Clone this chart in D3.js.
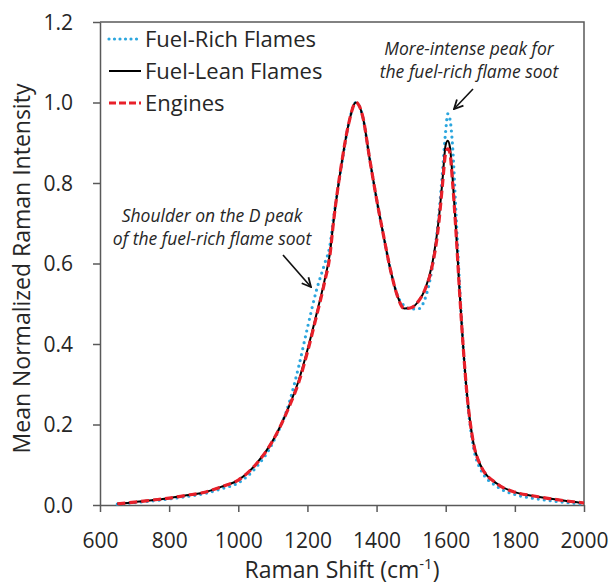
<!DOCTYPE html>
<html>
<head>
<meta charset="utf-8">
<script src="https://cdn.jsdelivr.net/npm/d3@7/dist/d3.min.js"></script>
<style>
  body { margin: 0; background: #fff; }
  svg { font-family: 'Open Sans', sans-serif; }
</style>
</head>
<body>
<div id="chart"></div>
<script>
// Raman spectra data
const shift = [650, 700, 750, 800, 850, 900, 950, 1000, 1050, 1100, 1150, 1175, 1200, 1225, 1250,
  1265, 1275, 1300, 1320, 1340, 1360, 1380, 1400, 1420, 1440, 1460, 1480, 1500, 1520, 1540, 1560,
  1580, 1590, 1600, 1606, 1612, 1620, 1630, 1640, 1650, 1660, 1680, 1700, 1750, 1800, 1850, 1900, 1950, 2000];

const fuelRich = [0.002, 0.006, 0.010, 0.015, 0.021, 0.028, 0.040, 0.055, 0.092, 0.155, 0.262, 0.345, 0.44, 0.53, 0.60,
  0.645, 0.71, 0.85, 0.95, 1.0, 0.965, 0.86, 0.76, 0.67, 0.585, 0.522, 0.495, 0.487, 0.487, 0.512, 0.585,
  0.72, 0.82, 0.93, 0.972, 0.96, 0.89, 0.72, 0.55, 0.40, 0.285, 0.145, 0.09, 0.045, 0.026, 0.017, 0.011, 0.006, 0.002];

const fuelLean = [0.003, 0.007, 0.012, 0.017, 0.024, 0.031, 0.045, 0.062, 0.100, 0.160, 0.252, 0.31, 0.385, 0.47, 0.56,
  0.625, 0.70, 0.855, 0.95, 1.0, 0.965, 0.86, 0.76, 0.67, 0.585, 0.52, 0.488, 0.49, 0.505, 0.535, 0.595,
  0.71, 0.80, 0.895, 0.905, 0.89, 0.81, 0.68, 0.53, 0.40, 0.29, 0.155, 0.10, 0.052, 0.032, 0.023, 0.016, 0.010, 0.005];

const engines = [0.003, 0.007, 0.012, 0.017, 0.024, 0.031, 0.045, 0.062, 0.100, 0.160, 0.250, 0.305, 0.38, 0.465, 0.555,
  0.62, 0.70, 0.855, 0.95, 1.0, 0.965, 0.86, 0.76, 0.67, 0.585, 0.52, 0.488, 0.49, 0.505, 0.535, 0.59,
  0.70, 0.79, 0.875, 0.885, 0.875, 0.80, 0.675, 0.53, 0.40, 0.29, 0.155, 0.10, 0.052, 0.032, 0.023, 0.016, 0.010, 0.005];

const xTicks = [600, 800, 1000, 1200, 1400, 1600, 1800, 2000];
const yTicks = [0, 0.2, 0.4, 0.6, 0.8, 1.0, 1.2];

const seriesNames = ['Fuel-Rich Flames', 'Fuel-Lean Flames', 'Engines'];
const seriesValues = [fuelRich, fuelLean, engines];

const width = 614, height = 587;
const margin = { top: 22, right: 30, bottom: 82, left: 100 };
const axisColor = '#595959';
const textColor = '#262626';

const styles = [
  { color: '#2ba6de', width: 3.2, dash: '0 6', cap: 'round' },
  { color: '#000000', width: 2, dash: null, cap: 'butt' },
  { color: '#e8202a', width: 3.2, dash: '8 4', cap: 'butt' }
];

const svg = d3.select('#chart').append('svg')
  .attr('width', width)
  .attr('height', height);

const x = d3.scaleLinear().domain([600, 2000]).range([margin.left, width - margin.right]);
const y = d3.scaleLinear().domain([0, 1.2]).range([height - margin.bottom, margin.top]);

// box (top + right)
svg.append('path')
  .attr('d', `M${margin.left},${margin.top}H${width - margin.right}V${height - margin.bottom}`)
  .attr('fill', 'none')
  .attr('stroke', axisColor)
  .attr('stroke-width', 1.5);

// x axis
const xAxis = svg.append('g')
  .attr('transform', `translate(0,${height - margin.bottom})`)
  .call(d3.axisBottom(x).tickValues(xTicks).tickSize(7).tickSizeOuter(0).tickPadding(21).tickFormat(d3.format('d')));

// y axis
const yAxis = svg.append('g')
  .attr('transform', `translate(${margin.left},0)`)
  .call(d3.axisLeft(y).tickValues(yTicks).tickSize(7).tickSizeOuter(0).tickPadding(20).tickFormat(d3.format('.1f')));

[xAxis, yAxis].forEach(a => {
  a.select('.domain').attr('stroke', axisColor).attr('stroke-width', 1.5);
  a.selectAll('.tick line').attr('stroke', axisColor).attr('stroke-width', 1.5);
  a.selectAll('.tick text')
    .attr('fill', textColor)
    .attr('font-size', '21px')
    .attr('font-family', "'Open Sans', sans-serif");
});
yAxis.selectAll('.tick text').attr('dy', '0.35em');

// lines
const line = d3.line()
  .x(d => x(d[0]))
  .y(d => y(d[1]))
  .curve(d3.curveMonotoneX);

seriesValues.forEach((vals, i) => {
  const pts = shift.map((s, j) => [s, vals[j]]);
  const st = styles[i];
  svg.append('path')
    .datum(pts)
    .attr('fill', 'none')
    .attr('stroke', st.color)
    .attr('stroke-width', st.width)
    .attr('stroke-linecap', st.cap)
    .attr('stroke-dasharray', st.dash)
    .attr('d', line);
});

// legend
const legend = svg.append('g');
seriesNames.forEach((name, i) => {
  const ly = 39 + i * 32;
  const st = styles[i];
  legend.append('line')
    .attr('x1', 109).attr('x2', 141)
    .attr('y1', ly).attr('y2', ly)
    .attr('stroke', st.color)
    .attr('stroke-width', st.width)
    .attr('stroke-linecap', st.cap)
    .attr('stroke-dasharray', i === 0 ? '0 5.5' : (i === 2 ? '7 3' : null));
  legend.append('text')
    .attr('x', 145)
    .attr('y', ly)
    .attr('dy', '0.35em')
    .attr('font-size', '22px')
    .attr('fill', textColor)
    .text(name);
});

// axis titles
svg.append('text')
  .attr('transform', `translate(22,${(margin.top + height - margin.bottom) / 2 + 5}) rotate(-90)`)
  .attr('text-anchor', 'middle')
  .attr('dy', '0.35em')
  .attr('font-size', '23px')
  .attr('fill', textColor)
  .text('Mean Normalized Raman Intensity');

const xt = svg.append('text')
  .attr('x', 342)
  .attr('y', 578)
  .attr('text-anchor', 'middle')
  .attr('font-size', '23px')
  .attr('fill', textColor);
xt.append('tspan').text('Raman Shift (cm');
xt.append('tspan').attr('dy', -9).attr('font-size', '15px').text('-1');
xt.append('tspan').attr('dy', 9).text(')');

// annotations
const notes = [
  { lines: ['More-intense peak for', 'the fuel-rich flame soot'], cx: 469, y0: 55, arrow: [473, 89, 454, 109] },
  { lines: ['Shoulder on the D peak', 'of the fuel-rich flame soot'], cx: 212, y0: 222, arrow: [283, 255, 311, 287] }
];

svg.append('defs').append('marker')
  .attr('id', 'arrow')
  .attr('viewBox', '0 0 10 10')
  .attr('refX', 9).attr('refY', 5)
  .attr('markerWidth', 7).attr('markerHeight', 7)
  .attr('orient', 'auto')
  .append('path')
  .attr('d', 'M1,1 L9,5 L1,9')
  .attr('fill', 'none')
  .attr('stroke', '#111')
  .attr('stroke-width', 1.6);

notes.forEach(n => {
  n.lines.forEach((t, i) => {
    svg.append('text')
      .attr('x', n.cx)
      .attr('y', n.y0 + i * 23)
      .attr('text-anchor', 'middle')
      .attr('font-size', '17.5px')
      .attr('font-style', 'italic')
      .attr('fill', textColor)
      .text(t);
  });
  svg.append('line')
    .attr('x1', n.arrow[0]).attr('y1', n.arrow[1])
    .attr('x2', n.arrow[2]).attr('y2', n.arrow[3])
    .attr('stroke', '#111')
    .attr('stroke-width', 1.6)
    .attr('marker-end', 'url(#arrow)');
});
</script>
</body>
</html>
